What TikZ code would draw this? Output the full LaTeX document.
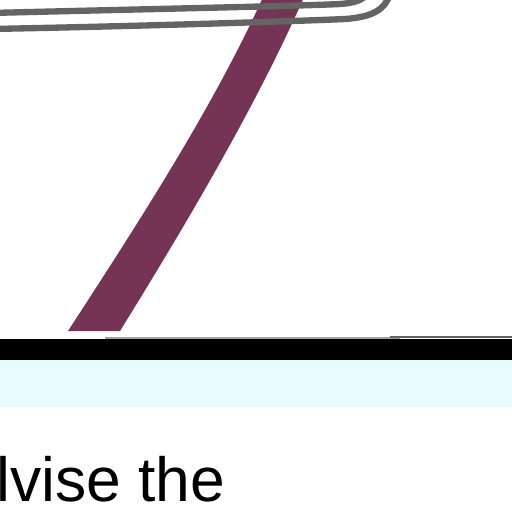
\documentclass[tikz,border=0pt]{standalone}
\usepackage{fontspec}
\setmainfont{Liberation Sans}
\usepackage{xcolor}
\usepackage{tikz}
\usetikzlibrary{positioning}
\definecolor{rmaroon}{RGB}{117,51,86}
\definecolor{rgray}{RGB}{100,100,100}
\definecolor{rcyan}{RGB}{232,251,254}

\begin{document}
\begin{tikzpicture}[
  x=0.02cm,y=-0.02cm,
  wire/.style={draw=rgray,line width=3.6pt,line cap=round},
  txt/.style={font=\fontsize{35.5}{40}\selectfont,inner sep=0pt,anchor=base west},
  ]
  \useasboundingbox (0,0) rectangle (512,512);
  \clip (0,0) rectangle (512,512);
  % band
  \fill[rmaroon] (264,-5) .. controls (214.5,105) and (139.5,221) .. (68,331)
    -- (120,331) .. controls (188,221) and (256.6,105) .. (305,-5) -- cycle;
  % wires over the band
  \draw[wire] (-10,13) .. controls (150,9) and (300,6) .. (340,4)
    .. controls (355,3) and (362,0) .. (368,-6);
  \draw[wire] (-10,29) .. controls (150,26) and (300,21) .. (345,19)
    .. controls (372,17) and (385,10) .. (390,-6);
  % floor
  \draw[rgray!60,line width=0.6pt] (105,338) -- (400,338);
  \draw[rgray,line width=1pt] (390,337) -- (512,337);
  \fill[black] (0,339) rectangle (512,360);
  \fill[rcyan] (0,360) rectangle (512,407);
  \node[txt] (caption) at (-4,501) {lvise the};
\end{tikzpicture}
\end{document}
